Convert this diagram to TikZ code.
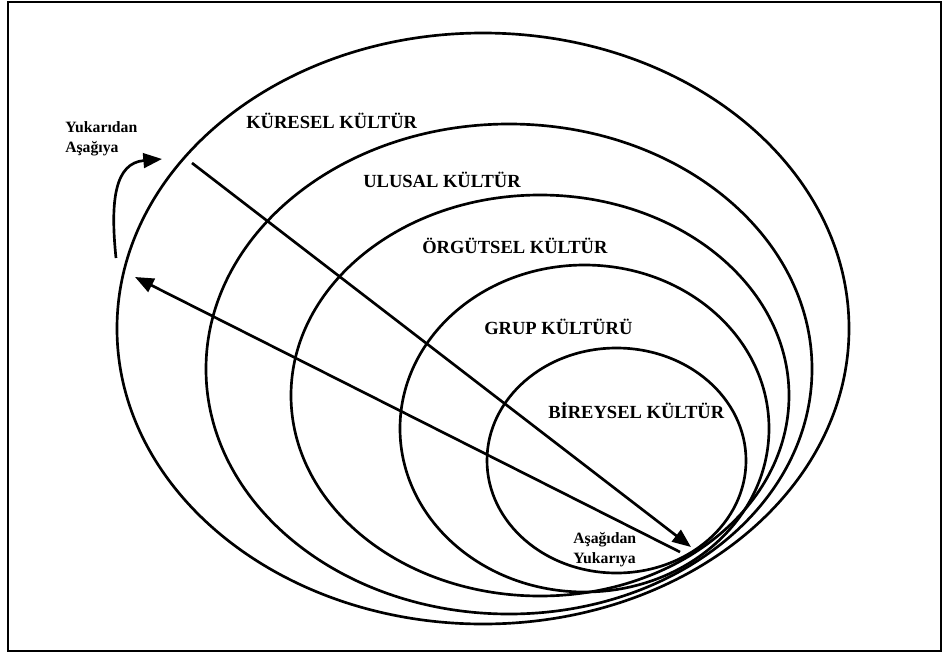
\documentclass[tikz,border=0pt]{standalone}
\usepackage{fontspec}
\setmainfont{Liberation Serif}
\usetikzlibrary{arrows.meta,shapes.geometric}

\begin{document}
\begin{tikzpicture}[
  x=0.75pt, y=-0.75pt,
  ring/.style={ellipse, draw=black, line width=2pt, inner sep=0pt},
  lvl/.style={anchor=base west, inner sep=0pt,
              font=\fontsize{13.9}{16}\selectfont\bfseries},
  dir/.style={anchor=north west, align=left, inner sep=0pt,
              font=\fontsize{11.8}{15}\selectfont\bfseries},
  flow/.style={-{Triangle[length=14pt,width=11pt]}, line width=2pt}
]
\useasboundingbox (0,0) rectangle (949,653);
\draw[line width=2pt] (8,2) rectangle (941,651);

% nested cultures, all touching near the lower right
\node[ring, minimum width=549pt,    minimum height=443.25pt] (kuresel)  at (483,328.5) {};
\node[ring, minimum width=454.5pt,  minimum height=367.5pt]  (ulusal)   at (509,369)   {};
\node[ring, minimum width=373.5pt,  minimum height=300.75pt] (orgutsel) at (540,395.5) {};
\node[ring, minimum width=276.75pt, minimum height=245.25pt] (grup)     at (584.5,428.5) {};
\node[ring, minimum width=194.25pt, minimum height=168.75pt] (bireysel) at (616.5,460.5) {};

\node[lvl] (lkuresel)  at (246,128) {KÜRESEL KÜLTÜR};
\node[lvl] (lulusal)   at (363,187) {ULUSAL KÜLTÜR};
\node[lvl] (lorgutsel) at (422,253) {ÖRGÜTSEL KÜLTÜR};
\node[lvl] (lgrup)     at (484,334) {GRUP KÜLTÜRÜ};
\node[lvl] (lbireysel) at (548,418) {BİREYSEL KÜLTÜR};

% direction labels
\node[dir] (yukari) at (65,121)  {Yukarıdan\\Aşağıya};
\node[dir] (asagi)  at (573,532) {Aşağıdan\\Yukarıya};

% arrow ends
\coordinate (downstart) at (192,163);
\coordinate (downend)   at (691,547);
\coordinate (upstart)   at (680,552);
\coordinate (upend)     at (135,277);
\coordinate (bendstart) at (116,258);
\coordinate (bendend)   at (162,159);

\draw[flow] (downstart) -- (downend);
\draw[flow] (upstart) -- (upend);
\draw[flow] (bendstart) .. controls (110,200) and (115,163) .. (bendend);

\end{tikzpicture}
\end{document}
